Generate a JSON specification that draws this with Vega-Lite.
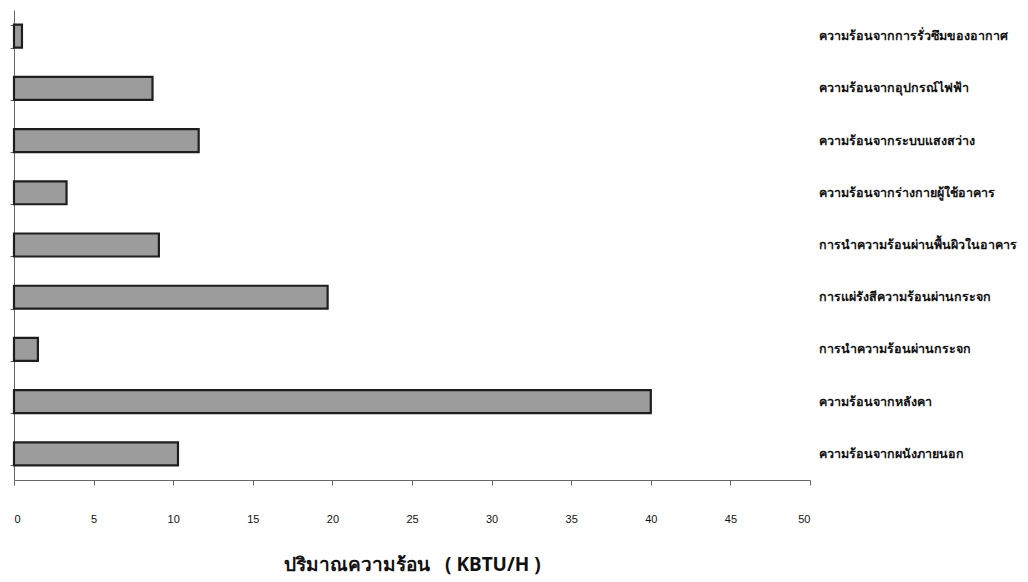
{
  "$schema": "https://vega.github.io/schema/vega-lite/v6.json",
  "autosize": {"type": "none"},
  "padding": {"left": 14, "top": 10, "right": 218, "bottom": 102},
  "width": 796,
  "height": 470,
  "background": "white",
  "config": {"view": {"stroke": null}},
  "data": {
    "values": [
      {"source": "ความร้อนจากการรั่วซึมของอากาศ", "heat": 0.5},
      {"source": "ความร้อนจากอุปกรณ์ไฟฟ้า", "heat": 8.7},
      {"source": "ความร้อนจากระบบแสงสว่าง", "heat": 11.6},
      {"source": "ความร้อนจากร่างกายผู้ใช้อาคาร", "heat": 3.3},
      {"source": "การนำความร้อนผ่านพื้นผิวในอาคาร", "heat": 9.1},
      {"source": "การแผ่รังสีความร้อนผ่านกระจก", "heat": 19.7},
      {"source": "การนำความร้อนผ่านกระจก", "heat": 1.5},
      {"source": "ความร้อนจากหลังคา", "heat": 40.0},
      {"source": "ความร้อนจากผนังภายนอก", "heat": 10.3}
    ]
  },
  "layer": [
    {
      "mark": {"type": "bar", "fill": "#9c9c9c", "stroke": "#1e1e1e", "strokeWidth": 2.2},
      "encoding": {
        "y": {
          "field": "source", "type": "nominal", "sort": null,
          "scale": {"paddingInner": 0.56, "paddingOuter": 0.28},
          "axis": {
            "orient": "left", "labels": false, "title": null,
            "tickBand": "extent", "ticks": true, "tickSize": 4,
            "tickColor": "#666", "domainColor": "#666", "domainWidth": 1
          }
        },
        "x": {
          "field": "heat", "type": "quantitative",
          "scale": {"domain": [0, 50], "nice": false},
          "axis": {
            "values": [0, 5, 10, 15, 20, 25, 30, 35, 40, 45, 50],
            "grid": false, "tickSize": 5, "tickColor": "#666",
            "domainColor": "#666", "labelPadding": 28,
            "labelFont": "Liberation Sans", "labelFontSize": 11, "labelColor": "#111",
            "title": "ปริมาณความร้อน\u00a0\u00a0\u00a0(\u00a0KBTU/H\u00a0)",
            "titleFont": "Noto Sans", "titleFontSize": 19, "titleFontWeight": "bold",
            "titleColor": "#111", "titlePadding": 31
          }
        }
      }
    },
    {
      "mark": {"type": "bar", "opacity": 0},
      "encoding": {
        "x": {"field": "heat", "type": "quantitative"},
        "y": {
          "field": "source", "type": "nominal", "sort": null,
          "axis": {
            "orient": "right", "title": null, "domain": false, "ticks": false,
            "labelPadding": 8, "labelAlign": "left", "labelLimit": 400,
            "labelFont": "Noto Sans", "labelFontSize": 12.5, "labelFontWeight": "bold", "labelColor": "#111"
          }
        }
      }
    }
  ],
  "resolve": {"axis": {"y": "independent"}}
}
